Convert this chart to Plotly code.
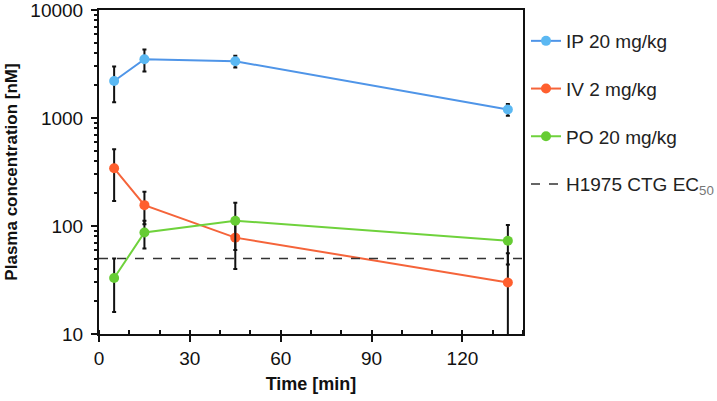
import plotly.graph_objects as go

time_min = [5, 15, 45, 135]
ip_vals = [2200, 3500, 3350, 1200]
ip_err = [800, 800, 420, 150]
iv_vals = [342, 156, 78, 30]
iv_err = [172, 52, 38, 26]
po_vals = [33, 87, 112, 73]
po_err = [17, 25, 52, 29]
ec50 = 50
ec50_x = [0, 140]

series = [
    ("IP 20 mg/kg", ip_vals, ip_err, "#4f95e8", "#5bb8f2"),
    ("IV 2 mg/kg", iv_vals, iv_err, "#f5643a", "#ff5f2e"),
    ("PO 20 mg/kg", po_vals, po_err, "#6fd23c", "#66cc33"),
]

FONT = "Liberation Sans, Arial, sans-serif"

fig = go.Figure()
for i, (name, vals, err, lc, mc) in enumerate(series):
    fig.add_trace(go.Scatter(
        x=time_min, y=vals, name=name, mode="lines+markers",
        line=dict(color=lc, width=2),
        marker=dict(color=mc, size=10),
        error_y=dict(type="data", array=err, visible=True, color="#111111",
                     thickness=2, width=2),
        legendgroup=f"g{i}",
    ))
fig.add_trace(go.Scatter(
    x=ec50_x, y=[ec50, ec50], name="H1975 CTG EC<sub><span style='color:#777'>50</span></sub>",
    mode="lines", line=dict(color="#333333", width=1.5, dash="dash"),
    legendgroup="g3",
))

fig.update_layout(
    width=717, height=401,
    margin=dict(l=99, r=194, t=10, b=67),
    plot_bgcolor="white", paper_bgcolor="white",
    font=dict(family=FONT, size=19, color="#111"),
    showlegend=True,
    legend=dict(xref="container", yref="container",
                x=526 / 717, y=1 - 22 / 401, xanchor="left", yanchor="top",
                bgcolor="rgba(0,0,0,0)",
                traceorder="grouped", tracegroupgap=20,
                font=dict(family=FONT, size=19, color="#222"),
                itemwidth=30),
    xaxis=dict(
        range=[0, 140], tickvals=[0, 30, 60, 90, 120], automargin=False,
        ticklabeloverflow="allow",
        showline=True, linecolor="#111", linewidth=2, mirror=True,
        ticks="outside", ticklen=6, tickwidth=2, tickcolor="#111",
        minor=dict(dtick=10, ticks="inside", ticklen=4, tickwidth=1.5, tickcolor="#111"),
        showgrid=False, zeroline=False,
        title=dict(text="<b>Time [min]</b>", font=dict(size=18), standoff=10),
        tickfont=dict(size=19),
    ),
    yaxis=dict(
        type="log", range=[1, 4], automargin=False,
        ticklabeloverflow="allow", ticklabelstandoff=4,
        tickvals=[10, 100, 1000, 10000], ticktext=["10", "100", "1000", "10000"],
        showline=True, linecolor="#111", linewidth=2, mirror=True,
        ticks="outside", ticklen=6, tickwidth=2, tickcolor="#111",
        minor=dict(ticks="outside", ticklen=3, tickwidth=1.5, tickcolor="#111",
                   tickvals=[v * m for m in (10, 100, 1000) for v in range(2, 10)]),
        showgrid=False, zeroline=False,
        title=dict(text="<b>Plasma concentration [nM]</b>", font=dict(size=17), standoff=8),
        tickfont=dict(size=19),
    ),
)

fig.write_html("out.html", config={"displayModeBar": False},
               post_script="document.body.style.margin='0';")
